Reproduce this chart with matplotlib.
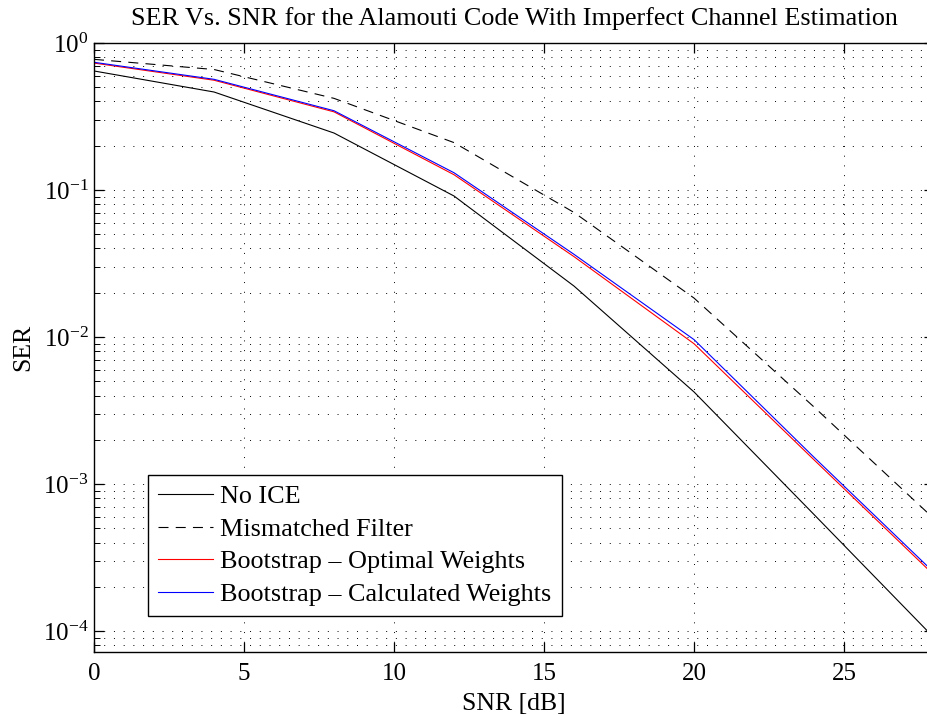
import matplotlib
matplotlib.use('Agg')
import matplotlib.pyplot as plt
from matplotlib.ticker import LogLocator, FixedLocator, NullFormatter

plt.rcParams['font.family'] = ['Liberation Serif', 'DejaVu Serif']
plt.rcParams['mathtext.fontset'] = 'custom'
plt.rcParams['mathtext.rm'] = 'Liberation Serif'
plt.rcParams['mathtext.it'] = 'Liberation Serif:italic'

# SNR grid (dB) and SER curves
snr = [0, 4, 8, 12, 16, 20, 24, 28]
ser_no_ice = [0.645, 0.464, 0.244, 0.091, 0.0222, 0.00423, 0.00062, 0.00009]
ser_mismatched = [0.774, 0.66, 0.42, 0.21, 0.0703, 0.0184, 0.00334, 0.00058]
ser_boot_opt = [0.73, 0.558, 0.34, 0.127, 0.0352, 0.0090, 0.00146, 0.00024]
ser_boot_calc = [0.739, 0.566, 0.346, 0.131, 0.0365, 0.0096, 0.00152, 0.00025]

labels = ['No ICE', 'Mismatched Filter',
          'Bootstrap \u2013 Optimal Weights', 'Bootstrap \u2013 Calculated Weights']

fig = plt.figure(figsize=(9.27, 7.15), dpi=100)
ax = fig.add_axes([0.1014, 0.0881, 0.9062, 0.8518])

lw = 0.8
ax.semilogy(snr, ser_no_ice, '-', color='black', lw=lw, label=labels[0])
ax.semilogy(snr, ser_mismatched, color='black', lw=lw, dashes=(9, 6.5), label=labels[1])
ax.semilogy(snr, ser_boot_opt, '-', color='red', lw=lw, label=labels[2])
ax.semilogy(snr, ser_boot_calc, '-', color='blue', lw=lw, label=labels[3])

ax.set_xlim(0, 28)
ax.set_ylim(7.2e-5, 1)
ax.xaxis.set_major_locator(FixedLocator([0, 5, 10, 15, 20, 25]))
ax.yaxis.set_major_locator(LogLocator(base=10, numticks=10))
ax.yaxis.set_minor_locator(LogLocator(base=10, subs=range(2, 10), numticks=20))
ax.yaxis.set_minor_formatter(NullFormatter())

dots = (0, (1, 9))
ax.grid(True, which='major', axis='both', color='black', ls=dots, lw=0.7)
ax.grid(True, which='minor', axis='y', color='black', ls=dots, lw=0.7)

ax.tick_params(which='both', direction='in', top=True, right=True, labelsize=18)
ax.tick_params(which='major', length=7, width=0.9)
ax.tick_params(which='minor', length=4, width=0.7)
ax.tick_params(axis='x', pad=8)
ax.tick_params(axis='y', pad=4)
for s in ax.spines.values():
    s.set_linewidth(1.0)

ax.set_title('SER Vs. SNR for the Alamouti Code With Imperfect Channel Estimation',
             fontsize=18.8, pad=13)
ax.set_xlabel('SNR [dB]', fontsize=18.5, labelpad=6)
ax.set_ylabel('SER', fontsize=18.5, labelpad=6)

leg = ax.legend(loc='lower left', bbox_to_anchor=(0.064, 0.059), fontsize=18.8,
                frameon=True, fancybox=False, edgecolor='black', framealpha=1,
                handlelength=2.1, handletextpad=0.3, borderpad=0.38, labelspacing=0.36,
                borderaxespad=0)
leg.get_frame().set_linewidth(1.0)

fig.savefig('out.png', dpi=100)
